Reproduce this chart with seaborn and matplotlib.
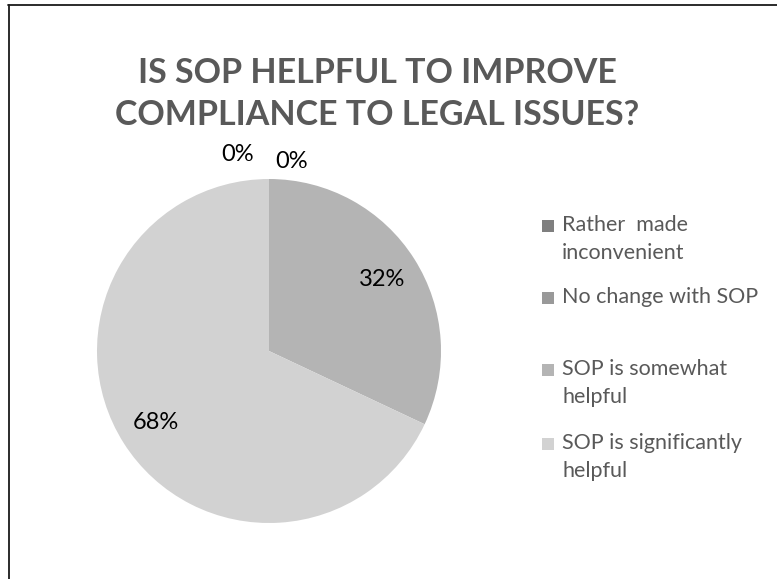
import numpy as np
import matplotlib
matplotlib.use("Agg")
import matplotlib.pyplot as plt
from matplotlib.patches import Rectangle
from matplotlib.lines import Line2D
import seaborn as sns

# Survey responses
categories = ["Rather  made\ninconvenient", "No change with SOP",
              "SOP is somewhat\nhelpful", "SOP is significantly\nhelpful"]
shares = [0, 0, 32, 68]
colors = ["#7f7f7f", "#999999", "#b4b4b4", "#d2d2d2"]
title = "IS SOP HELPFUL TO IMPROVE\nCOMPLIANCE TO LEGAL ISSUES?"

sns.set_theme(style="white")
plt.rcParams["font.family"] = ["Lato", "DejaVu Sans"]
palette = sns.color_palette(colors)

W, H = 777, 579
fig = plt.figure(figsize=(W / 100, H / 100), dpi=100)
fig.patch.set_facecolor("white")

# chart frame: top and left edges
fig.add_artist(Line2D([8 / W, 1], [1 - 4.5 / H, 1 - 4.5 / H], color="#1a1a1a", lw=1.3))
fig.add_artist(Line2D([8.5 / W, 8.5 / W], [0, 1 - 4.5 / H], color="#1a1a1a", lw=1.3))

fig.text(377 / W, 1 - 94 / H, title, ha="center", va="center", fontsize=24.5,
         fontweight="bold", color="#595959", linespacing=1.42)

# pie area
cx, cy, r = 269, 351, 172
ax = fig.add_axes([(cx - r) / W, (H - cy - r) / H, 2 * r / W, 2 * r / H])
wedges, _ = ax.pie(shares, colors=palette, startangle=90, counterclock=False,
                   radius=1, wedgeprops=dict(linewidth=0))
ax.set_xlim(-1, 1)
ax.set_ylim(-1, 1)
ax.set_aspect("equal")
ax.axis("off")

# percentage labels; zero-share labels sit just outside the rim, nudged apart
total = sum(shares)
cum = 0
zero_pos = [(-0.18, 1.14), (0.13, 1.10)]
zi = 0
for v in shares:
    mid = 90 - 360 * (cum + v / 2) / total
    th = np.deg2rad(mid)
    txt = f"{v / total * 100:.0f}%"
    if v == 0:
        x = np.cos(th) + zero_pos[zi][0]
        y = zero_pos[zi][1] * np.sin(th)
        zi += 1
    else:
        x, y = 0.78 * np.cos(th), 0.78 * np.sin(th)
    ax.text(x, y, txt, ha="center", va="center", fontsize=17, color="#000000",
            clip_on=False)
    cum += v

# legend
entry_y = [226, 298, 370, 444]
for lab, col, y in zip(categories, palette, entry_y):
    fig.add_artist(Rectangle((542 / W, 1 - (y + 6) / H), 12 / W, 12 / H,
                             facecolor=col, edgecolor="none"))
    fig.text(562 / W, 1 - (y - 11) / H, lab, ha="left", va="top", fontsize=15.5,
             color="#595959", linespacing=1.5)

fig.savefig("out.png", dpi=100, facecolor="white")
